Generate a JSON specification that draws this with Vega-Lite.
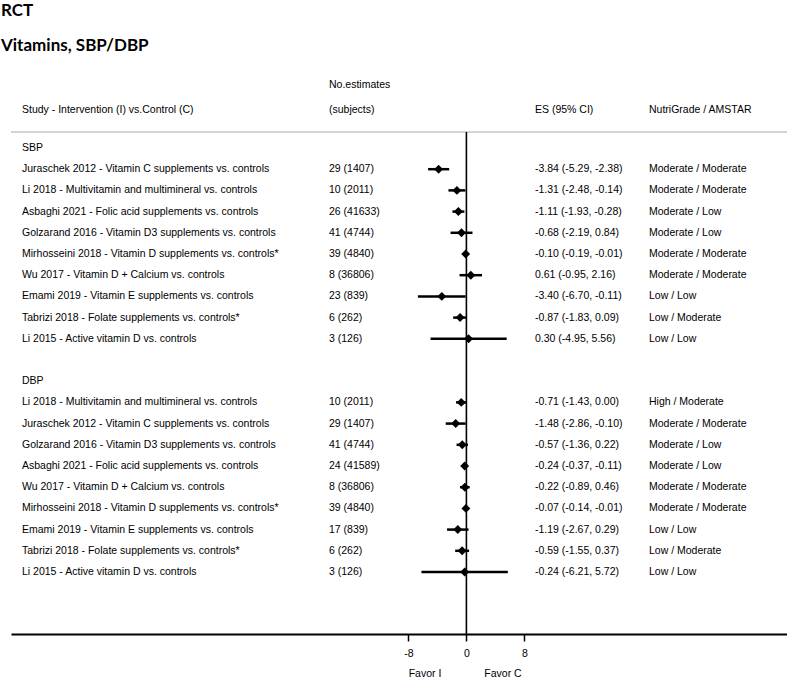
{
  "$schema": "https://vega.github.io/schema/vega-lite/v6.json",
  "autosize": {"type": "none"},
  "width": 776,
  "height": 564,
  "padding": {"left": 11, "top": 70, "right": 0, "bottom": 45},
  "background": "white",
  "title": {
    "text": ["RCT", "Vitamins, SBP/DBP"],
    "anchor": "start",
    "frame": "group",
    "font": "Lato",
    "fontSize": 17,
    "fontWeight": "bold",
    "color": "black",
    "lineHeight": 35,
    "offset": 15,
    "dx": -10
  },
  "config": {
    "view": {"stroke": null},
    "text": {"font": "Liberation Sans", "fontSize": 10.5, "color": "black", "baseline": "middle", "align": "left"}
  },
  "data": {
    "values": [
      {"row": 1, "study": "Juraschek 2012 - Vitamin C supplements vs. controls", "n": "29 (1407)", "es": -3.84, "lo": -5.29, "hi": -2.38, "ci": "-3.84 (-5.29, -2.38)", "grade": "Moderate / Moderate"},
      {"row": 2, "study": "Li 2018 - Multivitamin and multimineral vs. controls", "n": "10 (2011)", "es": -1.31, "lo": -2.48, "hi": -0.14, "ci": "-1.31 (-2.48, -0.14)", "grade": "Moderate / Moderate"},
      {"row": 3, "study": "Asbaghi 2021 - Folic acid supplements vs. controls", "n": "26 (41633)", "es": -1.11, "lo": -1.93, "hi": -0.28, "ci": "-1.11 (-1.93, -0.28)", "grade": "Moderate / Low"},
      {"row": 4, "study": "Golzarand 2016 - Vitamin D3 supplements vs. controls", "n": "41 (4744)", "es": -0.68, "lo": -2.19, "hi": 0.84, "ci": "-0.68 (-2.19, 0.84)", "grade": "Moderate / Low"},
      {"row": 5, "study": "Mirhosseini 2018 - Vitamin D supplements vs. controls*", "n": "39 (4840)", "es": -0.10, "lo": -0.19, "hi": -0.01, "ci": "-0.10 (-0.19, -0.01)", "grade": "Moderate / Moderate"},
      {"row": 6, "study": "Wu 2017 - Vitamin D + Calcium vs. controls", "n": "8 (36806)", "es": 0.61, "lo": -0.95, "hi": 2.16, "ci": "0.61 (-0.95, 2.16)", "grade": "Moderate / Moderate"},
      {"row": 7, "study": "Emami 2019 - Vitamin E supplements vs. controls", "n": "23 (839)", "es": -3.40, "lo": -6.70, "hi": -0.11, "ci": "-3.40 (-6.70, -0.11)", "grade": "Low / Low"},
      {"row": 8, "study": "Tabrizi 2018 - Folate supplements vs. controls*", "n": "6 (262)", "es": -0.87, "lo": -1.83, "hi": 0.09, "ci": "-0.87 (-1.83, 0.09)", "grade": "Low / Moderate"},
      {"row": 9, "study": "Li 2015 - Active vitamin D vs. controls", "n": "3 (126)", "es": 0.30, "lo": -4.95, "hi": 5.56, "ci": "0.30 (-4.95, 5.56)", "grade": "Low / Low"},
      {"row": 12, "study": "Li 2018 - Multivitamin and multimineral vs. controls", "n": "10 (2011)", "es": -0.71, "lo": -1.43, "hi": 0.00, "ci": "-0.71 (-1.43, 0.00)", "grade": "High / Moderate"},
      {"row": 13, "study": "Juraschek 2012 - Vitamin C supplements vs. controls", "n": "29 (1407)", "es": -1.48, "lo": -2.86, "hi": -0.10, "ci": "-1.48 (-2.86, -0.10)", "grade": "Moderate / Moderate"},
      {"row": 14, "study": "Golzarand 2016 - Vitamin D3 supplements vs. controls", "n": "41 (4744)", "es": -0.57, "lo": -1.36, "hi": 0.22, "ci": "-0.57 (-1.36, 0.22)", "grade": "Moderate / Low"},
      {"row": 15, "study": "Asbaghi 2021 - Folic acid supplements vs. controls", "n": "24 (41589)", "es": -0.24, "lo": -0.37, "hi": -0.11, "ci": "-0.24 (-0.37, -0.11)", "grade": "Moderate / Low"},
      {"row": 16, "study": "Wu 2017 - Vitamin D + Calcium vs. controls", "n": "8 (36806)", "es": -0.22, "lo": -0.89, "hi": 0.46, "ci": "-0.22 (-0.89, 0.46)", "grade": "Moderate / Moderate"},
      {"row": 17, "study": "Mirhosseini 2018 - Vitamin D supplements vs. controls*", "n": "39 (4840)", "es": -0.07, "lo": -0.14, "hi": -0.01, "ci": "-0.07 (-0.14, -0.01)", "grade": "Moderate / Moderate"},
      {"row": 18, "study": "Emami 2019 - Vitamin E supplements vs. controls", "n": "17 (839)", "es": -1.19, "lo": -2.67, "hi": 0.29, "ci": "-1.19 (-2.67, 0.29)", "grade": "Low / Low"},
      {"row": 19, "study": "Tabrizi 2018 - Folate supplements vs. controls*", "n": "6 (262)", "es": -0.59, "lo": -1.55, "hi": 0.37, "ci": "-0.59 (-1.55, 0.37)", "grade": "Low / Moderate"},
      {"row": 20, "study": "Li 2015 - Active vitamin D vs. controls", "n": "3 (126)", "es": -0.24, "lo": -6.21, "hi": 5.72, "ci": "-0.24 (-6.21, 5.72)", "grade": "Low / Low"}
    ]
  },
  "layer": [
    {
      "data": {"values": [{}]},
      "mark": {"type": "rule", "color": "#d4d4d4", "strokeWidth": 2},
      "encoding": {"y": {"datum": -0.76, "type": "quantitative", "axis": null}}
    },
    {
      "data": {"values": [{}]},
      "mark": {"type": "rule", "color": "black", "strokeWidth": 1.6},
      "encoding": {
        "x": {"datum": 0, "type": "quantitative"},
        "y": {"datum": -0.76, "type": "quantitative", "axis": null},
        "y2": {"datum": 22.925}
      }
    },
    {
      "mark": {"type": "rule", "color": "black", "strokeWidth": 2.5},
      "encoding": {
        "x": {
          "field": "lo", "type": "quantitative",
          "scale": {"domain": [-62.9, 44.28], "nice": false, "zero": false},
          "axis": {
            "title": null, "values": [-8, 0, 8], "grid": false,
            "labelExpr": "'' + datum.value",
            "domainColor": "black", "domainWidth": 2,
            "tickColor": "black", "tickWidth": 1.5, "tickSize": 7,
            "labelFont": "Liberation Sans", "labelFontSize": 10.5, "labelColor": "black",
            "labelPadding": 7, "labelFlush": false
          }
        },
        "x2": {"field": "hi"},
        "y": {
          "field": "row", "type": "quantitative",
          "scale": {"domain": [-3.679, 22.925], "reverse": true, "nice": false, "zero": false},
          "axis": null
        }
      }
    },
    {
      "mark": {"type": "point", "shape": "diamond", "filled": true, "color": "black", "size": 80, "opacity": 1},
      "encoding": {
        "x": {"field": "es", "type": "quantitative"},
        "y": {"field": "row", "type": "quantitative", "axis": null}
      }
    },
    {
      "mark": {"type": "text"},
      "encoding": {
        "x": {"datum": -61.38, "type": "quantitative"},
        "y": {"field": "row", "type": "quantitative", "axis": null},
        "text": {"field": "study"}
      }
    },
    {
      "mark": {"type": "text"},
      "encoding": {
        "x": {"datum": -18.98, "type": "quantitative"},
        "y": {"field": "row", "type": "quantitative", "axis": null},
        "text": {"field": "n"}
      }
    },
    {
      "mark": {"type": "text"},
      "encoding": {
        "x": {"datum": 9.47, "type": "quantitative"},
        "y": {"field": "row", "type": "quantitative", "axis": null},
        "text": {"field": "ci"}
      }
    },
    {
      "mark": {"type": "text"},
      "encoding": {
        "x": {"datum": 25.22, "type": "quantitative"},
        "y": {"field": "row", "type": "quantitative", "axis": null},
        "text": {"field": "grade"}
      }
    },
    {
      "data": {"values": [{"section": "SBP", "row": 0}, {"section": "DBP", "row": 11}]},
      "mark": {"type": "text"},
      "encoding": {
        "x": {"datum": -61.38, "type": "quantitative"},
        "y": {"field": "row", "type": "quantitative", "axis": null},
        "text": {"field": "section"}
      }
    },
    {
      "data": {"values": [{}]},
      "mark": {"type": "text"},
      "encoding": {
        "x": {"datum": -61.38, "type": "quantitative"},
        "y": {"datum": -1.79, "type": "quantitative", "axis": null},
        "text": {"value": "Study - Intervention (I) vs.Control (C)"}
      }
    },
    {
      "data": {"values": [{}]},
      "mark": {"type": "text"},
      "encoding": {
        "x": {"datum": -18.98, "type": "quantitative"},
        "y": {"datum": -2.97, "type": "quantitative", "axis": null},
        "text": {"value": "No.estimates"}
      }
    },
    {
      "data": {"values": [{}]},
      "mark": {"type": "text"},
      "encoding": {
        "x": {"datum": -18.98, "type": "quantitative"},
        "y": {"datum": -1.79, "type": "quantitative", "axis": null},
        "text": {"value": "(subjects)"}
      }
    },
    {
      "data": {"values": [{}]},
      "mark": {"type": "text"},
      "encoding": {
        "x": {"datum": 9.47, "type": "quantitative"},
        "y": {"datum": -1.79, "type": "quantitative", "axis": null},
        "text": {"value": "ES (95% CI)"}
      }
    },
    {
      "data": {"values": [{}]},
      "mark": {"type": "text"},
      "encoding": {
        "x": {"datum": 25.22, "type": "quantitative"},
        "y": {"datum": -1.79, "type": "quantitative", "axis": null},
        "text": {"value": "NutriGrade / AMSTAR"}
      }
    },
    {
      "data": {"values": [{}]},
      "mark": {"type": "text", "align": "center"},
      "encoding": {
        "x": {"datum": -5.72, "type": "quantitative"},
        "y": {"datum": 24.81, "type": "quantitative", "axis": null},
        "text": {"value": "Favor I"}
      }
    },
    {
      "data": {"values": [{}]},
      "mark": {"type": "text", "align": "center"},
      "encoding": {
        "x": {"datum": 5.05, "type": "quantitative"},
        "y": {"datum": 24.81, "type": "quantitative", "axis": null},
        "text": {"value": "Favor C"}
      }
    }
  ]
}
